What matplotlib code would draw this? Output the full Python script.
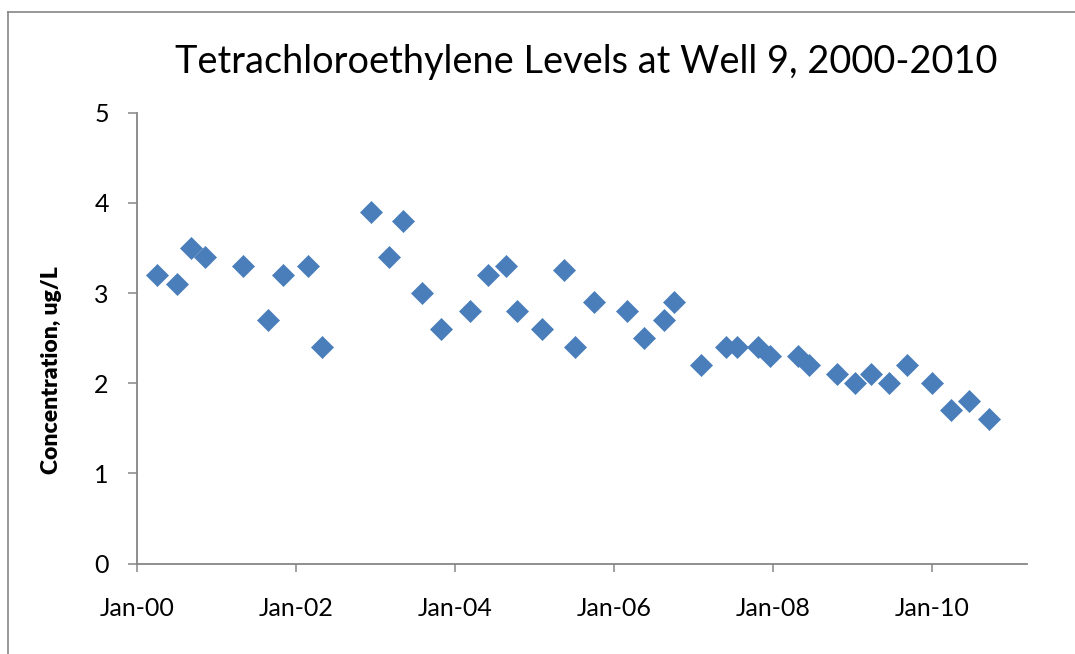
import numpy as np
import pandas as pd
import matplotlib
matplotlib.use("Agg")
import matplotlib.pyplot as plt
import matplotlib.dates as mdates
from matplotlib.lines import Line2D

# ------------------------------------ data

dates = [
    "2000-03-30", "2000-06-30", "2000-09-04", "2000-11-07",
    "2001-05-02", "2001-08-22", "2001-11-02", "2002-02-25",
    "2002-04-27", "2002-12-09", "2003-03-04", "2003-05-07",
    "2003-07-31", "2003-10-30", "2004-03-10", "2004-06-02",
    "2004-08-22", "2004-10-12", "2005-02-02", "2005-05-15",
    "2005-07-05", "2005-10-01", "2006-03-03", "2006-05-19",
    "2006-08-18", "2006-10-04", "2007-02-07", "2007-05-30",
    "2007-07-20", "2007-10-23", "2007-12-20", "2008-04-26",
    "2008-06-16", "2008-10-22", "2009-01-15", "2009-03-29",
    "2009-06-17", "2009-09-09", "2010-01-01", "2010-03-29",
    "2010-06-21", "2010-09-20",
]
conc = [
    3.2, 3.1, 3.5, 3.4, 3.3, 2.7, 3.2, 3.3, 2.4, 3.9, 3.4, 3.8,
    3.0, 2.6, 2.8, 3.2, 3.3, 2.8, 2.6, 3.25, 2.4, 2.9, 2.8, 2.5,
    2.7, 2.9, 2.2, 2.4, 2.4, 2.4, 2.3, 2.3, 2.2, 2.1, 2.0, 2.1,
    2.0, 2.2, 2.0, 1.7, 1.8, 1.6,
]
tick_years = [2000, 2002, 2004, 2006, 2008, 2010]
y_ticks = [0, 1, 2, 3, 4, 5]

title = "Tetrachloroethylene Levels at Well 9, 2000-2010"
ylabel = "Concentration, ug/L"

# ------------------------------------ figure setup

plt.rcParams["font.family"] = ["Lato", "DejaVu Sans"]

W, H = 1075, 654
fig = plt.figure(figsize=(W / 100, H / 100), dpi=100)

x0, x1 = 137.3, 1027.0
y0, y1 = 112.7, 563.5
ax = fig.add_axes([x0 / W, 1 - y1 / H, (x1 - x0) / W, (y1 - y0) / H])

grey = "#868686"

# chart frame (runs off the right / bottom edge)
fig.add_artist(Line2D([8.3 / W, 8.3 / W], [0, 1 - 12.3 / H],
                      transform=fig.transFigure, color=grey, lw=1.2))
fig.add_artist(Line2D([8.3 / W, 1], [1 - 12.3 / H, 1 - 12.3 / H],
                      transform=fig.transFigure, color=grey, lw=1.2))

# ------------------------------------ scatter

xd = pd.to_datetime(dates)
ax.plot(xd, conc, linestyle="none", marker="D", markersize=11.5,
        color="#4A7EBB", markeredgecolor="#4A7EBB", markeredgewidth=0.5)

ax.set_xlim(pd.Timestamp("2000-01-01"), pd.Timestamp("2011-03-15"))
ax.set_ylim(0, 5)

ax.set_xticks([pd.Timestamp(f"{y}-01-01") for y in tick_years])
ax.xaxis.set_major_formatter(mdates.DateFormatter("%b-%y"))
ax.set_yticks(y_ticks)

for side in ("top", "right"):
    ax.spines[side].set_visible(False)
for side in ("left", "bottom"):
    ax.spines[side].set_color(grey)
    ax.spines[side].set_linewidth(1.3)

ax.tick_params(axis="x", direction="out", length=6, width=1.1,
               color=grey, labelsize=18, pad=18)
ax.tick_params(axis="y", direction="out", length=6.5, width=1.1,
               color=grey, labelsize=18, pad=14)

fig.text(586 / W, 1 - 62 / H, title, ha="center", va="center",
         fontsize=27.3)
fig.text(52 / W, 1 - 370 / H, ylabel, ha="center", va="center",
         rotation=90, fontsize=16.5, fontweight="heavy")

fig.savefig("out.png", dpi=100)
